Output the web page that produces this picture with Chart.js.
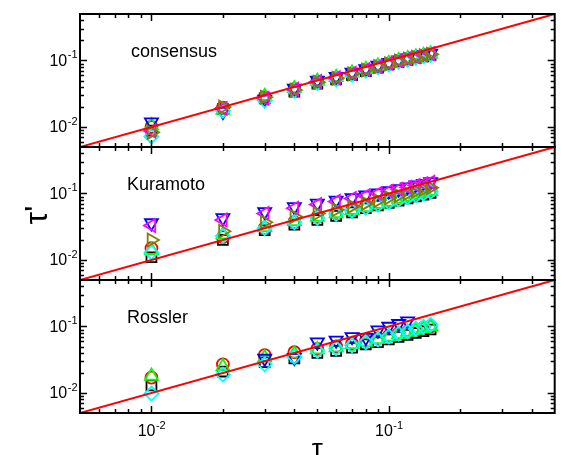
<!DOCTYPE html>
<html>
<head>
<meta charset="utf-8">
<script src="https://cdn.jsdelivr.net/npm/chart.js@4.4.1/dist/chart.umd.min.js"></script>
<style>
  html, body { margin: 0; padding: 0; background: #fff; }
  #wrap { position: relative; width: 564px; height: 455px; overflow: hidden; }
  #wrap canvas { position: absolute; left: 0; top: 0; }
</style>
</head>
<body>
<div id="wrap">
  <canvas id="panelConsensus" width="564" height="455"></canvas>
  <canvas id="panelKuramoto" width="564" height="455"></canvas>
  <canvas id="panelRossler" width="564" height="455"></canvas>
</div>
<script>
// ──────────────────────────────────────────────
//  DATA  (tau on x, tau' on y)
// ──────────────────────────────────────────────
const tau = [0.01, 0.02, 0.03, 0.04, 0.05, 0.06, 0.07, 0.08, 0.09, 0.10, 0.11, 0.12, 0.13, 0.14, 0.15];

// consensus
const consBlack   = [0.0088, 0.0185, 0.027, 0.034, 0.045, 0.052, 0.060, 0.069, 0.078, 0.087, 0.095, 0.102, 0.109, 0.115, 0.121];
const consRed     = [0.0100, 0.0195, 0.028, 0.037, 0.048, 0.055, 0.064, 0.073, 0.082, 0.090, 0.099, 0.106, 0.113, 0.119, 0.125];
const consGreen   = [0.0105, 0.0180, 0.029, 0.038, 0.049, 0.056, 0.065, 0.074, 0.083, 0.091, 0.100, 0.107, 0.114, 0.120, 0.126];
const consBlue    = [0.0118, 0.0170, 0.026, 0.038, 0.050, 0.057, 0.066, 0.075, 0.084, 0.093, 0.101, 0.108, 0.115, 0.122, 0.128];
const consCyan    = [0.0072, 0.0175, 0.025, 0.035, 0.046, 0.052, 0.061, 0.070, 0.079, 0.087, 0.096, 0.103, 0.110, 0.116, 0.122];
const consMagenta = [0.0087, 0.0190, 0.027, 0.037, 0.048, 0.055, 0.064, 0.073, 0.082, 0.091, 0.100, 0.107, 0.114, 0.121, 0.127];
const consOlive   = [0.0083, 0.0200, 0.028, 0.036, 0.047, 0.054, 0.063, 0.072, 0.081, 0.089, 0.098, 0.105, 0.112, 0.118, 0.124];

// Kuramoto
const kuraBlack   = [0.011, 0.020, 0.028, 0.034, 0.040, 0.046, 0.052, 0.060, 0.066, 0.072, 0.078, 0.084, 0.090, 0.096, 0.102];
const kuraRed     = [0.015, 0.022, 0.030, 0.037, 0.044, 0.050, 0.056, 0.063, 0.070, 0.076, 0.083, 0.090, 0.097, 0.104, 0.110];
const kuraGreen   = [0.014, 0.024, 0.031, 0.038, 0.044, 0.050, 0.056, 0.062, 0.069, 0.075, 0.082, 0.089, 0.095, 0.102, 0.108];
const kuraBlue    = [0.036, 0.043, 0.053, 0.063, 0.071, 0.079, 0.086, 0.094, 0.101, 0.109, 0.117, 0.125, 0.133, 0.141, 0.149];
const kuraCyan    = [0.013, 0.023, 0.030, 0.037, 0.043, 0.049, 0.055, 0.061, 0.068, 0.074, 0.081, 0.088, 0.094, 0.100, 0.106];
const kuraMagenta = [0.033, 0.040, 0.050, 0.060, 0.068, 0.076, 0.084, 0.092, 0.100, 0.108, 0.116, 0.124, 0.132, 0.140, 0.147];
const kuraOlive   = [0.020, 0.027, 0.037, 0.045, 0.050, 0.057, 0.064, 0.071, 0.078, 0.086, 0.093, 0.100, 0.108, 0.115, 0.122];

// Rossler
const rossBlack   = [0.013, 0.021, 0.029, 0.033, 0.040, 0.043, 0.048, 0.054, 0.058, 0.064, 0.070, 0.075, 0.080, 0.085, 0.090];
const rossRed     = [0.017, 0.027, 0.037, 0.041, 0.046, 0.050, 0.055, 0.060, 0.066, 0.072, 0.078, 0.083, 0.089, 0.095, 0.100];
const rossGreen   = [0.018, 0.025, 0.034, 0.039, 0.045, 0.048, 0.054, 0.058, 0.064, 0.070, 0.076, 0.082, 0.088, 0.094, 0.100];
const rossBlue    = [null,  null,  0.033, 0.034, 0.058, 0.062, 0.070, 0.068, 0.088, 0.100, 0.110, 0.120, null,  null,  null ];
const rossCyan    = [0.0098, 0.019, 0.027, 0.035, 0.043, 0.047, 0.052, 0.058, 0.064, 0.071, 0.078, 0.084, 0.092, 0.099, 0.106];

// reference line tau' = tau, spanning the axes
const fitX = [0.005, 0.5];
const fitY = [0.005, 0.5];

// axis range and tick labels
const AXIS_MIN = 0.005;
const AXIS_MAX = 0.5;
const majorTicks = [0.01, 0.1];
const majorExps = ['-2', '-1'];

// ──────────────────────────────────────────────
//  STYLE
// ──────────────────────────────────────────────
const FONT = "'Liberation Sans', Arial, sans-serif";
const SERIES = {
  black:   { color: '#000000', pointStyle: 'rect',     radius: 7,   rotation: 0 },
  red:     { color: '#ff0000', pointStyle: 'circle',   radius: 6,   rotation: 0 },
  green:   { color: '#00ff00', pointStyle: 'triangle', radius: 7.5, rotation: 0 },
  blue:    { color: '#0000ff', pointStyle: 'triangle', radius: 7.5, rotation: 180 },
  cyan:    { color: '#00ffff', pointStyle: 'rectRot',  radius: 7,   rotation: 0 },
  magenta: { color: '#ff00ff', pointStyle: 'triangle', radius: 7.5, rotation: 270 },
  olive:   { color: '#808000', pointStyle: 'triangle', radius: 7.5, rotation: 90 },
};

// minor + major tick positions inside the axis range
const tickPositions = [];
[0.001, 0.01, 0.1].forEach((dec) => {
  for (let m = 1; m <= 9; m++) {
    const v = +(dec * m).toPrecision(3);
    if (v > AXIS_MIN && v < AXIS_MAX) tickPositions.push(v);
  }
});

function seriesDataset(key, values, idx) {
  const s = SERIES[key];
  return {
    label: key,
    data: tau.map((t, i) => ({ x: t, y: values[i] })).filter((p) => p.y !== null),
    showLine: false,
    pointStyle: s.pointStyle,
    pointRadius: s.radius,
    pointRotation: s.rotation,
    pointBorderColor: s.color,
    pointBackgroundColor: 'rgba(0,0,0,0)',
    pointBorderWidth: 1.8,
    order: 20 - idx,
  };
}

function fitDataset() {
  return {
    type: 'line',
    label: 'fit',
    data: fitX.map((v, i) => ({ x: v, y: fitY[i] })),
    borderColor: '#ff0000',
    borderWidth: 2,
    pointRadius: 0,
    fill: false,
    order: 0,
  };
}

// ──────────────────────────────────────────────
//  FRAME / TICKS / LABELS PLUGIN
// ──────────────────────────────────────────────
function drawPower(ctx, exp, x, y, align, baseSize, supSize) {
  ctx.font = `${baseSize}px ${FONT}`;
  const bw = ctx.measureText('10').width;
  ctx.font = `${supSize}px ${FONT}`;
  const sw = ctx.measureText(exp).width;
  let start = align === 'right' ? x - bw - sw : x - (bw + sw) / 2;
  ctx.textAlign = 'left';
  ctx.textBaseline = 'middle';
  ctx.font = `${baseSize}px ${FONT}`;
  ctx.fillText('10', start, y);
  ctx.textBaseline = 'alphabetic';
  ctx.font = `${supSize}px ${FONT}`;
  ctx.fillText(exp, start + bw + 0.5, y - 3);
}

const framePlugin = {
  id: 'frame',
  afterDatasetsDraw(chart, args, opts) {
    const { ctx, chartArea: a, scales: { x, y } } = chart;
    ctx.save();
    ctx.strokeStyle = '#000';
    ctx.fillStyle = '#000';

    // inward ticks on all four sides
    ctx.lineWidth = 1.5;
    ctx.beginPath();
    tickPositions.forEach((v) => {
      const len = majorTicks.includes(v) ? 7 : 4;
      const px = Math.round(x.getPixelForValue(v)) + 0.5;
      ctx.moveTo(px, a.bottom); ctx.lineTo(px, a.bottom - len);
      ctx.moveTo(px, a.top); ctx.lineTo(px, a.top + len);
      const py = Math.round(y.getPixelForValue(v)) + 0.5;
      ctx.moveTo(a.left, py); ctx.lineTo(a.left + len, py);
      ctx.moveTo(a.right, py); ctx.lineTo(a.right - len, py);
    });
    ctx.stroke();

    // box
    ctx.lineWidth = 2;
    ctx.strokeRect(a.left, a.top, a.right - a.left, a.bottom - a.top);

    // y tick labels
    majorTicks.forEach((v, i) => {
      drawPower(ctx, majorExps[i], 77, y.getPixelForValue(v) + 1, 'right', 16, 11);
    });

    // x tick labels + axis titles on the bottom panel
    if (opts.bottom) {
      majorTicks.forEach((v, i) => {
        drawPower(ctx, majorExps[i], x.getPixelForValue(v), a.bottom + 19, 'center', 16, 11);
      });
      ctx.font = `28px ${FONT}`;
      ctx.textAlign = 'center';
      ctx.textBaseline = 'alphabetic';
      ctx.fillText('τ', (a.left + a.right) / 2, 458);

      ctx.translate(38, 215);
      ctx.rotate(-Math.PI / 2);
      ctx.font = `32px ${FONT}`;
      ctx.textBaseline = 'middle';
      ctx.fillText("τ'", 0, 0);
      ctx.setTransform(1, 0, 0, 1, 0, 0);
    }

    // panel name
    ctx.font = `18px ${FONT}`;
    ctx.textAlign = 'left';
    ctx.textBaseline = 'alphabetic';
    ctx.fillText(opts.name, opts.nameX, a.top + 43);
    ctx.restore();
  },
};

// ──────────────────────────────────────────────
//  PANELS
// ──────────────────────────────────────────────
function makePanel(canvasId, datasets, top, bottom, name, nameX, isBottom) {
  return new Chart(document.getElementById(canvasId), {
    type: 'scatter',
    data: { datasets: [...datasets, fitDataset()] },
    options: {
      responsive: false,
      animation: false,
      devicePixelRatio: 1,
      layout: { padding: { left: 80, right: 4, top, bottom: 455 - bottom } },
      plugins: {
        legend: { display: false },
        tooltip: { enabled: false },
        frame: { name, nameX, bottom: isBottom },
      },
      scales: {
        x: { type: 'logarithmic', min: AXIS_MIN, max: AXIS_MAX, display: false },
        y: { type: 'logarithmic', min: AXIS_MIN, max: AXIS_MAX, display: false },
      },
    },
    plugins: [framePlugin],
  });
}

makePanel('panelConsensus', [
  seriesDataset('black', consBlack, 0),
  seriesDataset('red', consRed, 1),
  seriesDataset('green', consGreen, 2),
  seriesDataset('blue', consBlue, 3),
  seriesDataset('cyan', consCyan, 4),
  seriesDataset('magenta', consMagenta, 5),
  seriesDataset('olive', consOlive, 6),
], 14, 147, 'consensus', 131, false);

makePanel('panelKuramoto', [
  seriesDataset('black', kuraBlack, 0),
  seriesDataset('red', kuraRed, 1),
  seriesDataset('green', kuraGreen, 2),
  seriesDataset('blue', kuraBlue, 3),
  seriesDataset('cyan', kuraCyan, 4),
  seriesDataset('magenta', kuraMagenta, 5),
  seriesDataset('olive', kuraOlive, 6),
], 147, 280, 'Kuramoto', 127, false);

makePanel('panelRossler', [
  seriesDataset('black', rossBlack, 0),
  seriesDataset('red', rossRed, 1),
  seriesDataset('green', rossGreen, 2),
  seriesDataset('blue', rossBlue, 3),
  seriesDataset('cyan', rossCyan, 4),
], 280, 413, 'Rossler', 127, true);
</script>
</body>
</html>
